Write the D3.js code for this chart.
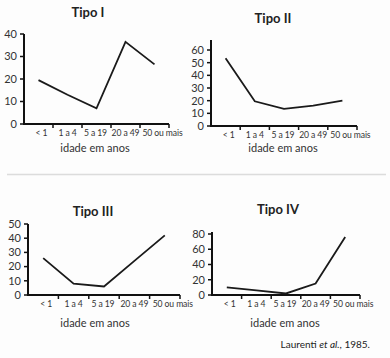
<!DOCTYPE html>
<html><head><meta charset="utf-8">
<script src="https://cdn.jsdelivr.net/npm/d3@7"></script>
<style>
html,body{margin:0;padding:0;background:#fdfdfd;}
svg{display:block;font-family:Lato,"Open Sans",sans-serif;}
</style></head>
<body><svg id="c" width="390" height="358"></svg>
<script>
const categories = ["< 1", "1 a 4", "5 a 19", "20 a 49", "50 ou mais"];
const titles = ["Tipo I", "Tipo II", "Tipo III", "Tipo IV"];
const tipoI   = [19.5, 13, 7, 36.5, 26.5];
const tipoII  = [53.5, 19.5, 13.5, 16, 20];
const tipoIII = [26, 8, 6, 24, 42];
const tipoIV  = [10, 6, 2, 15, 76];
const yTicksI   = [0, 10, 20, 30, 40];
const yTicksII  = [0, 10, 20, 30, 40, 50, 60];
const yTicksIII = [0, 10, 20, 30, 40, 50];
const yTicksIV  = [0, 20, 40, 60, 80];
const xTitle = "idade em anos";
const source = ["Laurenti ", "et al.", ", 1985."];

const svg = d3.select("#c");
svg.append("line").attr("x1",7).attr("x2",386).attr("y1",174.5).attr("y2",174.5)
  .attr("stroke","#dcdcdc").attr("stroke-width",1.5);

const labelShift = [3, 0, -1, 0, 8];

const panels = [
  {title:titles[0], vals:tipoI,   ticks:yTicksI,   max:40, x0:24,  x1:169, y0:124, y1:34,  ty:17,  tx:88,  lx:95,  ly:152},
  {title:titles[1], vals:tipoII,  ticks:yTicksII,  max:60, x0:211, x1:357, y0:126, y1:50,  ty:23,  tx:273, lx:283, ly:152, top:40},
  {title:titles[2], vals:tipoIII, ticks:yTicksIII, max:50, x0:28,  x1:180, y0:295, y1:224, ty:216, tx:93,  lx:95,  ly:327},
  {title:titles[3], vals:tipoIV,  ticks:yTicksIV,  max:80, x0:212, x1:360, y0:295, y1:234, ty:214, tx:278, lx:285, ly:327, top:232}
];

panels.forEach(p => {
  const g = svg.append("g");
  const x = d3.scaleBand().domain(categories).range([p.x0, p.x1]);
  const y = d3.scaleLinear().domain([0, p.max]).range([p.y0, p.y1]);
  g.append("text").attr("x",p.tx).attr("y",p.ty).attr("text-anchor","middle")
    .attr("font-size",13).attr("font-weight","bold").attr("fill","#222").text(p.title);
  const yTop = p.top !== undefined ? p.top : p.y1;
  g.append("line").attr("x1",p.x0).attr("x2",p.x0).attr("y1",yTop).attr("y2",p.y0+1)
    .attr("stroke","#111").attr("stroke-width",2);
  p.ticks.forEach(t => {
    g.append("line").attr("x1",p.x0-4).attr("x2",p.x0).attr("y1",y(t)).attr("y2",y(t))
      .attr("stroke","#111").attr("stroke-width",1.5);
    g.append("text").attr("x",p.x0-7).attr("y",y(t)).attr("dy","0.35em")
      .attr("text-anchor","end").attr("font-size",11).attr("fill","#333").text(t);
  });
  g.append("line").attr("x1",p.x0-1).attr("x2",p.x1).attr("y1",p.y0).attr("y2",p.y0)
    .attr("stroke","#111").attr("stroke-width",2);
  categories.forEach((c,i) => {
    const xe = x(c) + x.bandwidth();
    g.append("line").attr("x1",xe).attr("x2",xe).attr("y1",p.y0).attr("y2",p.y0+4)
      .attr("stroke","#111").attr("stroke-width",1.5);
    g.append("text").attr("x",x(c)+x.bandwidth()/2+labelShift[i]).attr("y",p.y0+12)
      .attr("text-anchor","middle").attr("font-size",8.6).attr("letter-spacing",-0.1)
      .attr("fill","#333").text(c);
  });
  g.append("text").attr("x",p.lx).attr("y",p.ly).attr("text-anchor","middle")
    .attr("font-size",11).attr("fill","#333").text(xTitle);
  const line = d3.line().x((d,i)=>x(categories[i])+x.bandwidth()/2).y(d=>y(d));
  g.append("path").datum(p.vals).attr("d",line).attr("fill","none")
    .attr("stroke","#1a1a1a").attr("stroke-width",1.8).attr("stroke-linejoin","miter");
});

const src = svg.append("text").attr("x",370).attr("y",348).attr("text-anchor","end")
  .attr("font-size",10).attr("fill","#222");
src.append("tspan").text(source[0]);
src.append("tspan").attr("font-style","italic").text(source[1]);
src.append("tspan").text(source[2]);
</script></body></html>
